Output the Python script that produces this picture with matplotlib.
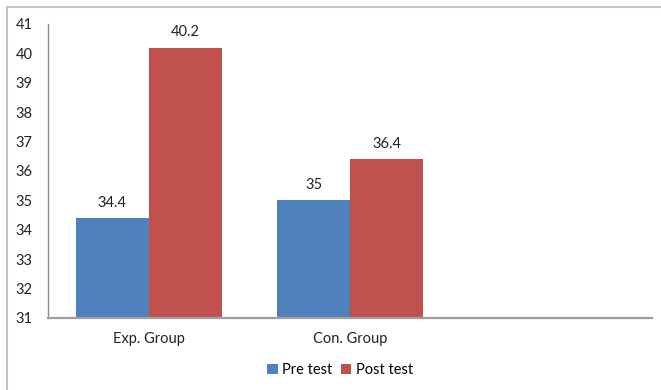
import numpy as np
import matplotlib.pyplot as plt
from matplotlib.lines import Line2D

plt.rcParams['font.family'] = ['Lato', 'DejaVu Sans']

# Mean scores per group
groups = ["Exp. Group", "Con. Group", ""]
pre_test = [34.4, 35.0]
post_test = [40.2, 36.4]
series = ["Pre test", "Post test"]
colors = ["#4F81BD", "#C0504D"]

fig = plt.figure(figsize=(6.61, 3.90), dpi=100)
ax = fig.add_axes([48 / 661, 1 - 318 / 390, (652 - 48) / 661, (318 - 24) / 390])

width = 0.3625
x = np.arange(len(pre_test))
for offset, vals, name, c in [(-width / 2, pre_test, series[0], colors[0]),
                              (width / 2, post_test, series[1], colors[1])]:
    bars = ax.bar(x + offset, np.array(vals) - 31, bottom=31, width=width,
                  color=c, label=name)
    for b, v in zip(bars, vals):
        ax.annotate(f"{v:g}", (b.get_x() + b.get_width() / 2, v),
                    xytext=(0, 6), textcoords="offset points",
                    ha="center", va="bottom", fontsize=10.5, color="#222222")

ax.set_xlim(-0.5, len(groups) - 0.5)
ax.set_ylim(31, 41)
ax.set_yticks(range(31, 42))
ax.set_xticks(range(len(groups)), groups)
ax.tick_params(axis="both", length=0, labelsize=10.5, colors="#222222")
ax.tick_params(axis="y", pad=11)
ax.tick_params(axis="x", pad=10)

for s in ["top", "right"]:
    ax.spines[s].set_visible(False)
ax.spines["left"].set_color("#8c8c8c")
ax.spines["left"].set_linewidth(1.0)
ax.spines["bottom"].set_color("#a0a0a0")
ax.spines["bottom"].set_linewidth(1.6)

ax.legend(loc="center", bbox_to_anchor=(340 / 661, 1 - 370 / 390),
          bbox_transform=fig.transFigure, ncol=2, frameon=False,
          fontsize=10.5, handlelength=0.7, handleheight=0.7,
          handletextpad=0.3, columnspacing=0.6)

# outer chart border
fig.add_artist(Line2D([7 / 661, 1], [1 - 7 / 390] * 2, transform=fig.transFigure,
                      color="#c4c4c4", lw=1.5))
fig.add_artist(Line2D([7 / 661] * 2, [0, 1 - 7 / 390], transform=fig.transFigure,
                      color="#c4c4c4", lw=1.5))

fig.savefig("out.png", dpi=100)
plt.close(fig)
